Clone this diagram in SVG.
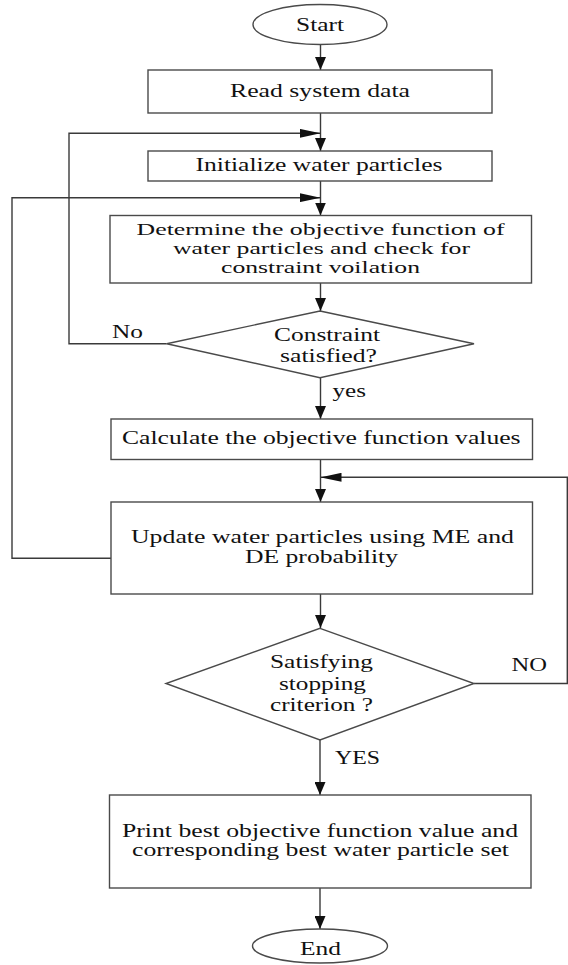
<svg xmlns="http://www.w3.org/2000/svg" width="568" height="965" viewBox="0 0 568 965">
<style>
.box{fill:#fff;stroke:#4a4a4a;stroke-width:1.4}
.ln{fill:none;stroke:#3a3a3a;stroke-width:1.4}
.t{font-family:"Liberation Serif","Times New Roman",serif;font-size:19px;fill:#111;text-anchor:middle}
.s{font-size:17px}
.l{font-family:"Liberation Serif","Times New Roman",serif;font-size:19px;fill:#111}
</style>
<defs>
<marker id="av" markerUnits="userSpaceOnUse" orient="auto" markerWidth="13" markerHeight="11" refX="13" refY="5.5">
<path d="M0,0 L13,5.5 L0,11 z" fill="#111"/>
</marker>
<marker id="ah" markerUnits="userSpaceOnUse" orient="auto" markerWidth="21" markerHeight="9" refX="21" refY="4.5">
<path d="M0,0 L21,4.5 L0,9 z" fill="#111"/>
</marker>
</defs>
<rect width="568" height="965" fill="#fff"/>
<g id="connectors">
<line class="ln" x1="320.5" y1="44.5" x2="320.5" y2="70" marker-end="url(#av)"/>
<line class="ln" x1="320.5" y1="113" x2="320.5" y2="151" marker-end="url(#av)"/>
<line class="ln" x1="320.5" y1="181" x2="320.5" y2="215.5" marker-end="url(#av)"/>
<line class="ln" x1="320.5" y1="283" x2="320.5" y2="311" marker-end="url(#av)"/>
<line class="ln" x1="320.5" y1="377.7" x2="320.5" y2="419" marker-end="url(#av)"/>
<line class="ln" x1="320.5" y1="459.5" x2="320.5" y2="502" marker-end="url(#av)"/>
<line class="ln" x1="320.5" y1="594" x2="320.5" y2="628" marker-end="url(#av)"/>
<line class="ln" x1="320" y1="740" x2="320" y2="795" marker-end="url(#av)"/>
<line class="ln" x1="320" y1="888" x2="320" y2="929" marker-end="url(#av)"/>
<polyline class="ln" points="166.7,343.7 69,343.7 69,133.3 320.5,133.3" marker-end="url(#ah)"/>
<polyline class="ln" points="111,558.3 12,558.3 12,197.7 320.5,197.7" marker-end="url(#ah)"/>
<polyline class="ln" points="474,683.5 567.3,683.5 567.3,477.3 320.5,477.3" marker-end="url(#ah)"/>
<text class="l" x="112" y="337.5" textLength="31" lengthAdjust="spacingAndGlyphs">No</text>
<text class="l" x="332.6" y="397" textLength="33.4" lengthAdjust="spacingAndGlyphs">yes</text>
<text class="l" x="511.6" y="670.7" textLength="35.5" lengthAdjust="spacingAndGlyphs">NO</text>
<text class="l" x="335" y="764.3" textLength="45" lengthAdjust="spacingAndGlyphs">YES</text>
</g>
<g id="start">
<ellipse class="box" cx="320" cy="24.5" rx="67" ry="20"/>
<text class="t" x="320" y="31" textLength="48" lengthAdjust="spacingAndGlyphs">Start</text>
</g>
<g id="read">
<rect class="box" x="148" y="70" width="344" height="43"/>
<text class="t" x="320" y="96.5" textLength="180" lengthAdjust="spacingAndGlyphs">Read system data</text>
</g>
<g id="init">
<rect class="box" x="148" y="151" width="344" height="30"/>
<text class="t" x="319" y="170.5" textLength="247" lengthAdjust="spacingAndGlyphs">Initialize water particles</text>
</g>
<g id="determine">
<rect class="box" x="110" y="215.5" width="421.5" height="67.5"/>
<text class="t s" x="320.6" y="234.5" textLength="368" lengthAdjust="spacingAndGlyphs">Determine the objective function of</text>
<text class="t s" x="321.5" y="253.5" textLength="297" lengthAdjust="spacingAndGlyphs">water particles and check for</text>
<text class="t s" x="320.5" y="272.5" textLength="199" lengthAdjust="spacingAndGlyphs">constraint voilation</text>
</g>
<g id="constraint">
<polygon class="box" points="320,311 474,343.7 320,377.7 166.7,343.7"/>
<text class="t" x="327" y="341" textLength="106" lengthAdjust="spacingAndGlyphs">Constraint</text>
<text class="t" x="328.5" y="361.7" textLength="97" lengthAdjust="spacingAndGlyphs">satisfied?</text>
</g>
<g id="calculate">
<rect class="box" x="111" y="419" width="421.5" height="40.5"/>
<text class="t" x="321.3" y="444" textLength="398.6" lengthAdjust="spacingAndGlyphs">Calculate the objective function values</text>
</g>
<g id="update">
<rect class="box" x="111" y="502" width="421.5" height="92"/>
<text class="t" x="322.5" y="543.3" textLength="383" lengthAdjust="spacingAndGlyphs">Update water particles using ME and</text>
<text class="t" x="321.5" y="563.3" textLength="153" lengthAdjust="spacingAndGlyphs">DE probability</text>
</g>
<g id="stopping">
<polygon class="box" points="320,628.3 474,683.5 320,740 166,683.5"/>
<text class="t" x="321.5" y="668" textLength="103" lengthAdjust="spacingAndGlyphs">Satisfying</text>
<text class="t" x="322.5" y="690" textLength="87" lengthAdjust="spacingAndGlyphs">stopping</text>
<text class="t" x="321.5" y="711" textLength="103" lengthAdjust="spacingAndGlyphs">criterion ?</text>
</g>
<g id="print">
<rect class="box" x="109.5" y="795" width="421.5" height="93"/>
<text class="t" x="320" y="836.7" textLength="396" lengthAdjust="spacingAndGlyphs">Print best objective function value and</text>
<text class="t" x="320.5" y="856" textLength="377" lengthAdjust="spacingAndGlyphs">corresponding best water particle set</text>
</g>
<g id="end">
<ellipse class="box" cx="320" cy="946" rx="67.5" ry="17"/>
<text class="t" x="320.5" y="955" textLength="41" lengthAdjust="spacingAndGlyphs">End</text>
</g>
</svg>
